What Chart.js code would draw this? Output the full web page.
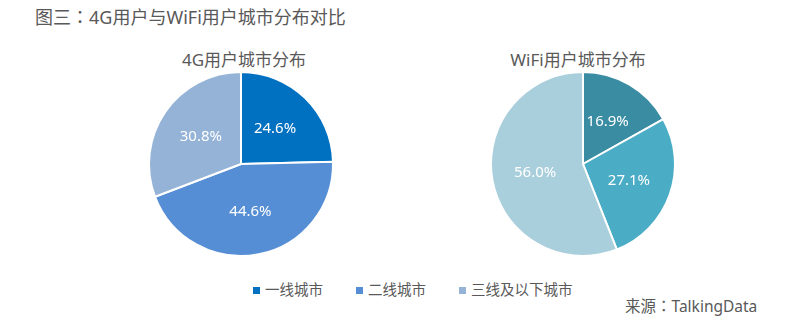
<!DOCTYPE html>
<html>
<head>
<meta charset="utf-8">
<script src="https://cdn.jsdelivr.net/npm/chart.js@4/dist/chart.umd.min.js"></script>
<style>
  html, body { margin: 0; padding: 0; background: #fff; }
  body { width: 800px; height: 325px; position: relative; overflow: hidden;
         font-family: "Noto Sans", "Noto Sans CJK SC", sans-serif; color: #595959; }
  .title { position: absolute; left: 35px; top: 3px; font-size: 18px; white-space: nowrap; }
  .colon { font-family: "Noto Sans CJK TC", "Noto Sans CJK SC", sans-serif; }
  .sub { position: absolute; top: 46px; width: 240px; text-align: center; font-size: 17px; white-space: nowrap; }
  .pie { position: absolute; top: 64px; width: 200px; height: 200px; }
  .legend { position: absolute; top: 279px; left: 0; width: 800px; height: 20px; font-size: 14.5px; }
  .legend .item { position: absolute; white-space: nowrap; line-height: 20px; }
  .legend .sw { display: inline-block; width: 7px; height: 7px; margin-right: 5px; vertical-align: 1px; }
  .source { position: absolute; left: 625px; top: 294px; font-size: 15.5px; white-space: nowrap; }
</style>
</head>
<body>
<div class="title">图三<span class="colon">：</span>4G用户与WiFi用户城市分布对比</div>
<div class="sub" id="sub4g" style="left:124px">4G用户城市分布</div>
<div class="sub" id="subwifi" style="left:458px">WiFi用户城市分布</div>
<div class="pie" style="left:141px"><canvas id="pie4g"></canvas></div>
<div class="pie" style="left:483px"><canvas id="piewifi"></canvas></div>
<div class="legend" id="legend"></div>
<div class="source">来源<span class="colon">：</span>TalkingData</div>
<script>
// City tiers and the share of users in each tier (%)
const tiers = ['一线城市', '二线城市', '三线及以下城市'];
const share4G = [24.6, 44.6, 30.8];
const shareWiFi = [16.9, 27.1, 56.0];

const colors4G = ['#0070C0', '#558ED5', '#95B3D7'];
const colorsWiFi = ['#3A8CA3', '#4BACC6', '#A9CEDC'];

// Percentage labels drawn inside each slice
const sliceLabels = {
  id: 'sliceLabels',
  afterDatasetsDraw(chart) {
    const ctx = chart.ctx;
    const meta = chart.getDatasetMeta(0);
    const data = chart.data.datasets[0].data;
    ctx.save();
    ctx.fillStyle = '#ffffff';
    ctx.font = '15px "Noto Sans", "Noto Sans CJK SC", sans-serif';
    ctx.textAlign = 'center';
    ctx.textBaseline = 'middle';
    meta.data.forEach((arc, i) => {
      const p = arc.getProps(['x', 'y', 'startAngle', 'endAngle', 'outerRadius'], true);
      const mid = (p.startAngle + p.endAngle) / 2;
      const r = p.outerRadius * 0.53;
      ctx.fillText(data[i].toFixed(1) + '%', p.x + Math.cos(mid) * r, p.y + Math.sin(mid) * r);
    });
    ctx.restore();
  }
};

function makePie(id, values, colors) {
  return new Chart(document.getElementById(id), {
    type: 'pie',
    data: {
      labels: tiers,
      datasets: [{
        data: values,
        backgroundColor: colors,
        borderColor: '#ffffff',
        borderWidth: 2
      }]
    },
    options: {
      responsive: true,
      maintainAspectRatio: false,
      animation: false,
      radius: 92,
      layout: { padding: 0 },
      plugins: { legend: { display: false }, tooltip: { enabled: false } }
    },
    plugins: [sliceLabels]
  });
}

makePie('pie4g', share4G, colors4G);
makePie('piewifi', shareWiFi, colorsWiFi);

// Shared legend for the city tiers
const legendX = [253, 356, 459];
const legend = document.getElementById('legend');
tiers.forEach((t, i) => {
  const item = document.createElement('div');
  item.className = 'item';
  item.style.left = legendX[i] + 'px';
  item.innerHTML = '<span class="sw" style="background:' + colors4G[i] + '"></span>' + t;
  legend.appendChild(item);
});
</script>
</body>
</html>
